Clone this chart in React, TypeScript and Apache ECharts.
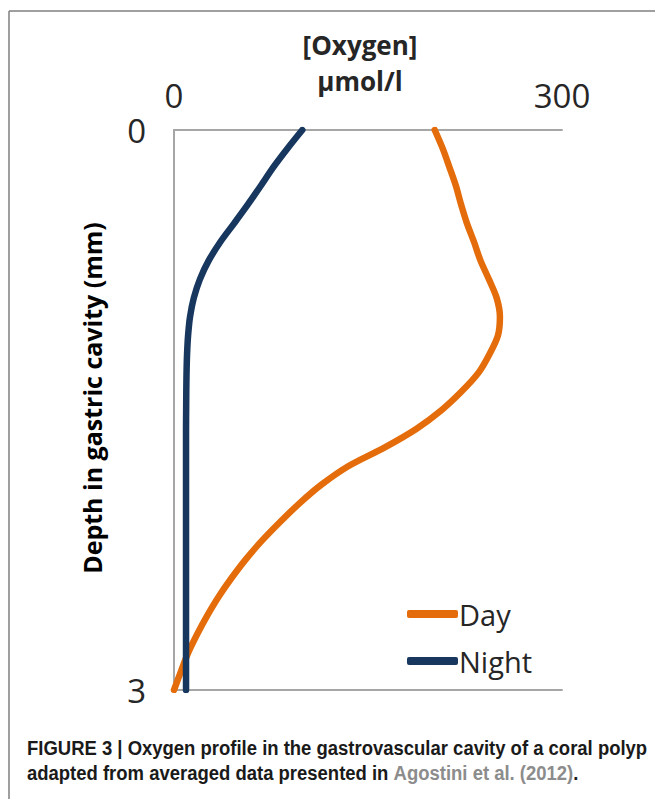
import React, { useEffect, useRef } from "react";
import * as echarts from "echarts";

// Depth in gastric cavity (mm)
const depth = [0, 0.1, 0.2, 0.3, 0.4, 0.5, 0.6, 0.7, 0.8, 0.9, 1.0, 1.1, 1.2, 1.3, 1.4, 1.5, 1.6, 1.7, 1.8, 1.9, 2.0, 2.1, 2.2, 2.3, 2.4, 2.5, 2.6, 2.7, 2.8, 2.9, 3.0];
// Oxygen (µmol/l)
const dayOxygen = [201.6, 207.8, 213, 218, 222, 226.5, 232, 237, 243.5, 249.5, 252, 250.5, 244, 235.5, 222.5, 207, 187.6, 163, 135, 114, 97, 82, 68, 55.5, 44.5, 34.5, 25.8, 18, 11, 5.4, 0];
const nightOxygen = [99.2, 87.6, 76.7, 67, 57, 46.5, 35.8, 26.8, 20, 15.3, 12.4, 10.9, 10.1, 9.7, 9.5, 9.4, 9.3, 9.3, 9.3, 9.3, 9.3, 9.3, 9.3, 9.3, 9.3, 9.3, 9.3, 9.3, 9.3, 9.3, 9.3];

const xTicks = [0, 300];
const yTicks = [0, 3];

const seriesNames = ["Day", "Night"];
const xTitle = ["[Oxygen]", "µmol/l"];
const yTitle = "Depth in gastric cavity (mm)";
const captionLine1 = "FIGURE 3 | Oxygen profile in the gastrovascular cavity of a coral polyp";
const captionLine2a = "adapted from averaged data presented in ";
const captionLine2b = "Agostini et al. (2012)";
const captionLine2c = ".";

export default function App() {
  const ref = useRef<HTMLDivElement>(null);
  useEffect(() => {
    if (!ref.current) return;
    const chart = echarts.init(ref.current, null, { renderer: "svg" });
    const font = "'Open Sans', 'Noto Sans', sans-serif";
    const capFont = "'Liberation Sans', Arial, sans-serif";
    const capSize = 20;
    let capScale = 0.8;
    try {
      const ctx = document.createElement("canvas").getContext("2d");
      if (ctx) {
        ctx.font = "bold " + capSize + "px " + capFont;
        const w = ctx.measureText(captionLine1).width;
        if (w > 0) capScale = 620 / w;
      }
    } catch (e) {}
    const dayData = depth.map((d, i) => [dayOxygen[i], d]);
    const nightData = depth.map((d, i) => [nightOxygen[i], d]);
    chart.setOption({
      animation: false,
      backgroundColor: "#ffffff",
      grid: { left: 174, top: 130, width: 388, height: 560 },
      xAxis: [
        {
          type: "value",
          position: "top",
          min: xTicks[0],
          max: xTicks[1],
          interval: xTicks[1] - xTicks[0],
          axisLine: { show: true, lineStyle: { color: "#a6a6a6", width: 2 } },
          axisTick: { show: false },
          splitLine: { show: false },
          axisLabel: { fontSize: 33, color: "#262626", fontFamily: font, margin: 18 },
        },
        {
          type: "value",
          position: "bottom",
          min: xTicks[0],
          max: xTicks[1],
          axisLine: { show: true, onZero: false, lineStyle: { color: "#a6a6a6", width: 2 } },
          axisTick: { show: false },
          splitLine: { show: false },
          axisLabel: { show: false },
        },
      ],
      yAxis: {
        type: "value",
        inverse: true,
        min: yTicks[0],
        max: yTicks[1],
        interval: yTicks[1] - yTicks[0],
        axisLine: { show: true, onZero: false, lineStyle: { color: "#a6a6a6", width: 2 } },
        axisTick: { show: false },
        splitLine: { show: false },
        axisLabel: { fontSize: 33, color: "#262626", fontFamily: font, margin: 28, verticalAlign: "middle", padding: [8, 0, 0, 0] },
      },
      legend: {
        orient: "vertical",
        left: 402,
        top: 591,
        itemWidth: 51,
        itemHeight: 8,
        itemGap: 11,
        icon: "roundRect",
        textStyle: { fontSize: 29, color: "#262626", fontFamily: font, lineHeight: 36, padding: [0, 0, 0, -4] },
        data: seriesNames,
      },
      series: [
        {
          name: seriesNames[0],
          type: "line",
          data: dayData,
          smooth: 0.3,
          showSymbol: false,
          symbol: "none",
          lineStyle: { color: "#E46C0A", width: 6.5, cap: "round", join: "round" },
          itemStyle: { color: "#E46C0A" },
          z: 2,
        },
        {
          name: seriesNames[1],
          type: "line",
          data: nightData,
          smooth: 0.3,
          showSymbol: false,
          symbol: "none",
          lineStyle: { color: "#17375E", width: 6.5, cap: "round", join: "round" },
          itemStyle: { color: "#17375E" },
          z: 3,
        },
      ],
      graphic: [
        { type: "line", shape: { x1: 9, y1: 11, x2: 655, y2: 11 }, style: { stroke: "#7f7f7f", lineWidth: 1.5 } },
        { type: "line", shape: { x1: 9, y1: 11, x2: 9, y2: 799 }, style: { stroke: "#7f7f7f", lineWidth: 1.5 } },
        {
          type: "text",
          x: 360,
          y: 45,
          style: { text: xTitle[0], fontSize: 26, fontWeight: "bold", fontFamily: font, fill: "#262626", align: "center", verticalAlign: "middle" },
        },
        {
          type: "text",
          x: 360,
          y: 81,
          style: { text: xTitle[1], fontSize: 26, fontWeight: "bold", fontFamily: font, fill: "#262626", align: "center", verticalAlign: "middle" },
        },
        {
          type: "text",
          x: 92,
          y: 398,
          rotation: Math.PI / 2,
          style: { text: yTitle, fontSize: 25, fontWeight: "bold", fontFamily: font, fill: "#000000", align: "center", verticalAlign: "middle" },
        },
        {
          type: "text",
          x: 27,
          y: 748,
          scaleX: capScale,
          style: {
            text: captionLine1,
            fontSize: capSize,
            fontWeight: "bold",
            fontFamily: capFont,
            fill: "#1a1a1a",
            verticalAlign: "middle",
          },
        },
        {
          type: "text",
          x: 27,
          y: 773,
          scaleX: capScale,
          style: {
            text: "{a|" + captionLine2a + "}{b|" + captionLine2b + "}{a|" + captionLine2c + "}",
            verticalAlign: "middle",
            rich: {
              a: { fontSize: capSize, fontWeight: "bold", fontFamily: capFont, fill: "#1a1a1a" },
              b: { fontSize: capSize, fontWeight: "bold", fontFamily: capFont, fill: "#8c8c8c" },
            },
          },
        },
      ],
    });
    return () => chart.dispose();
  }, []);
  return <div ref={ref} style={{ position: "fixed", left: 0, top: 0, width: 655, height: 799 }} />;
}
